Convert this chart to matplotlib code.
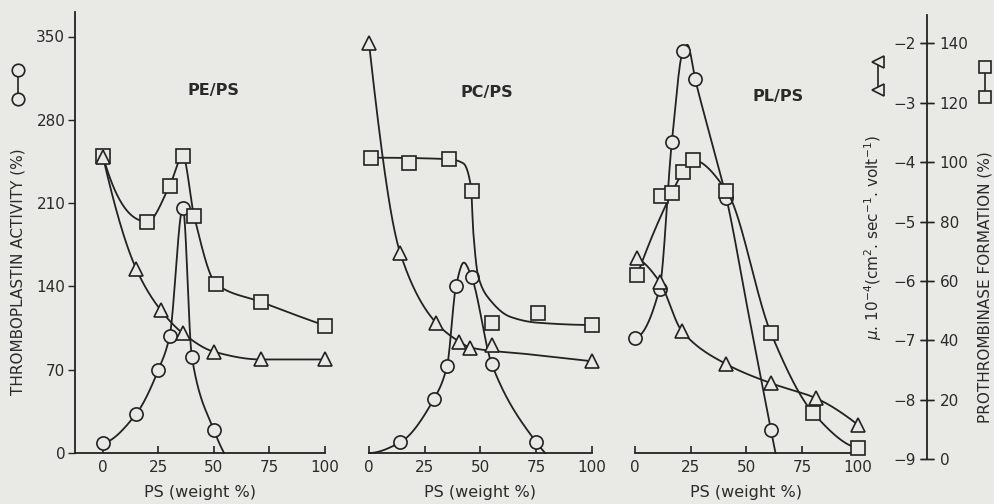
import numpy as np
import matplotlib
matplotlib.use("Agg")
import matplotlib.pyplot as plt
from matplotlib.lines import Line2D

# ------------------------------------------------------------------ data
ps_ticks = [0, 25, 50, 75, 100]
thrombo_ticks = [0, 70, 140, 210, 280, 350]
prothrombinase_ticks = [0, 20, 40, 60, 80, 100, 120, 140]
mobility_ticks = [-9, -8, -7, -6, -5, -4, -3, -2]
panel_titles = ["PE/PS", "PC/PS", "PL/PS"]
x_label = "PS (weight %)"

# PE/PS  -- thromboplastin activity (circles), prothrombinase (squares), mobility (triangles)
pe_thr_x = [0, 15, 25, 30, 36, 40, 50]
pe_thr_y = [8, 33, 70, 98, 206, 81, 19]
pe_thr_curve_x = [0, 15, 25, 30, 36, 40, 50, 54.5]
pe_thr_curve_y = [8, 33, 70, 98, 206, 81, 19, 0]
pe_pro_x = [0, 20, 30, 36, 41, 51, 71, 100]
pe_pro_y = [102, 80, 92, 102, 82, 59, 53, 45]
pe_mob_x = [0, 15, 26, 36, 50, 71, 100]
pe_mob_y = [-3.91, -5.80, -6.49, -6.88, -7.19, -7.32, -7.32]

# PC/PS
pc_thr_x = [14, 29, 35, 39, 46, 55, 75]
pc_thr_y = [9, 45, 73, 140, 148, 75, 9]
pc_thr_curve_x = [0, 14, 29, 35, 39, 42.5, 46, 55, 75, 79]
pc_thr_curve_y = [0, 9, 45, 73, 140, 160, 148, 75, 9, 0]
pc_pro_x = [1, 18, 36, 46, 55, 76, 100]
pc_pro_y = [101.5, 99.6, 101, 90.4, 45.8, 49.1, 45.2]
pc_pro_curve_x = [1, 36, 42.3, 45.7, 46.8, 49, 54.3, 63.2, 75.2, 100.6]
pc_pro_curve_y = [101.5, 101, 99.6, 91.8, 76.1, 61.5, 53.6, 48, 46, 45.2]
pc_mob_x = [0, 14, 30, 40.5, 45.5, 55, 100]
pc_mob_y = [-2.0, -5.53, -6.70, -7.02, -7.13, -7.08, -7.35]
pc_mob_curve_x = [0, 14, 30, 40.5, 45.5, 71, 100]
pc_mob_curve_y = [-2.0, -5.53, -6.70, -7.02, -7.12, -7.23, -7.35]

# PL/PS
pl_thr_x = [0, 11, 16.5, 21.5, 27, 41, 61]
pl_thr_y = [97, 138, 261, 338, 314, 214, 19]
pl_thr_curve_x = [0, 11, 16.5, 21.5, 23.5, 27, 34, 41, 51, 61, 63]
pl_thr_curve_y = [97, 138, 261, 338, 343, 314, 264, 214, 116, 19, 0]
pl_pro_x = [1, 11.5, 16.5, 21.5, 26, 41, 61, 80, 100]
pl_pro_y = [62, 88.6, 89.7, 96.6, 100.7, 90.4, 42.4, 15.5, 3.7]
pl_pro_curve_x = [1, 16.5, 21.5, 26, 41, 61, 80, 100]
pl_pro_curve_y = [62, 89.7, 96.6, 100.7, 90.4, 42.4, 15.5, 3.7]
pl_mob_x = [1, 11, 21, 41, 61, 81, 100]
pl_mob_y = [-5.62, -6.01, -6.84, -7.40, -7.72, -7.97, -8.42]

panels = [
    dict(title=panel_titles[0],
         thr=(pe_thr_x, pe_thr_y, pe_thr_curve_x, pe_thr_curve_y),
         pro=(pe_pro_x, pe_pro_y, pe_pro_x, pe_pro_y),
         mob=(pe_mob_x, pe_mob_y, pe_mob_x, pe_mob_y)),
    dict(title=panel_titles[1],
         thr=(pc_thr_x, pc_thr_y, pc_thr_curve_x, pc_thr_curve_y),
         pro=(pc_pro_x, pc_pro_y, pc_pro_curve_x, pc_pro_curve_y),
         mob=(pc_mob_x, pc_mob_y, pc_mob_curve_x, pc_mob_curve_y)),
    dict(title=panel_titles[2],
         thr=(pl_thr_x, pl_thr_y, pl_thr_curve_x, pl_thr_curve_y),
         pro=(pl_pro_x, pl_pro_y, pl_pro_curve_x, pl_pro_curve_y),
         mob=(pl_mob_x, pl_mob_y, pl_mob_x, pl_mob_y)),
]

# ------------------------------------------------------------------ style / layout
BG = "#e9e9e6"
INK = "#222222"
TXT = "#2a2a2a"
W, H = 995, 504
plt.rcParams["font.family"] = ["DejaVu Sans"]

TOP_PX, BOT_PX = 12, 453
THR_ANCHOR = (0, 453.0, 350, 36.5)
PRO_ANCHOR = (0, 459.3, 140, 43.3)
MOB_ANCHOR = (-9, 459.3, -2, 43.3)

panel_geom = [
    (103, 325, 75, (213, 90)),
    (369, 592, 369, (487, 93)),
    (635, 858, 635, (778, 97)),
]


def lims(anchor, top_px, bot_px):
    v0, p0, v1, p1 = anchor
    s = (v1 - v0) / (p0 - p1)
    return v0 + (p0 - bot_px) * s, v0 + (p0 - top_px) * s


def pchip(x, y, n=300):
    x = np.asarray(x, float)
    y = np.asarray(y, float)
    h = np.diff(x)
    d = np.diff(y) / h
    m = np.zeros_like(y)
    for k in range(1, len(x) - 1):
        if d[k - 1] * d[k] > 0:
            w1 = 2 * h[k] + h[k - 1]
            w2 = h[k] + 2 * h[k - 1]
            m[k] = (w1 + w2) / (w1 / d[k - 1] + w2 / d[k])
    if len(x) > 2:
        m0 = ((2 * h[0] + h[1]) * d[0] - h[0] * d[1]) / (h[0] + h[1])
        if np.sign(m0) != np.sign(d[0]):
            m0 = 0
        elif np.sign(d[0]) != np.sign(d[1]) and abs(m0) > abs(3 * d[0]):
            m0 = 3 * d[0]
        m[0] = m0
        mn = ((2 * h[-1] + h[-2]) * d[-1] - h[-1] * d[-2]) / (h[-1] + h[-2])
        if np.sign(mn) != np.sign(d[-1]):
            mn = 0
        elif np.sign(d[-1]) != np.sign(d[-2]) and abs(mn) > abs(3 * d[-1]):
            mn = 3 * d[-1]
        m[-1] = mn
    else:
        m[:] = d[0]
    xs, ys = [], []
    for k in range(len(x) - 1):
        t = np.linspace(0, 1, max(4, int(n * h[k] / (x[-1] - x[0]))))
        h00 = 2 * t**3 - 3 * t**2 + 1
        h10 = t**3 - 2 * t**2 + t
        h01 = -2 * t**3 + 3 * t**2
        h11 = t**3 - t**2
        xs.append(x[k] + t * h[k])
        ys.append(h00 * y[k] + h10 * h[k] * m[k] + h01 * y[k + 1] + h11 * h[k] * m[k + 1])
    return np.concatenate(xs), np.concatenate(ys)


fig = plt.figure(figsize=(W / 100, H / 100), dpi=100, facecolor=BG)

mk = dict(mec=INK, mfc=BG, mew=1.2, clip_on=False, zorder=5, ls="none")
ln = dict(color=INK, lw=1.3, clip_on=False, zorder=3)

for i, (p, (x0, x100, left, tpos)) in enumerate(zip(panels, panel_geom)):
    s = 100.0 / (x100 - x0)
    xlo = (left - x0) * s
    rect = [left / W, (H - BOT_PX) / H, (x100 - left) / W, (BOT_PX - TOP_PX) / H]
    ax = fig.add_axes(rect)
    axp = ax.twinx()
    axm = ax.twinx()
    ax.yaxis.tick_left()
    ax.set_facecolor("none")
    ax.set_xlim(xlo, 100)
    ax.set_ylim(*lims(THR_ANCHOR, TOP_PX, BOT_PX))
    for sp in ["top", "right"]:
        ax.spines[sp].set_visible(False)
    ax.spines["bottom"].set_color(INK)
    ax.spines["bottom"].set_linewidth(1.3)
    ax.set_xticks(ps_ticks)
    ax.tick_params(axis="x", direction="in", length=5, width=1.2, color=INK,
                   labelsize=11, labelcolor=TXT, pad=5)
    if i == 0:
        ax.spines["left"].set_color(INK)
        ax.spines["left"].set_linewidth(1.3)
        ax.set_yticks(thrombo_ticks)
        ax.tick_params(axis="y", direction="out", length=5, width=1.0, color=INK,
                       labelsize=11, labelcolor=TXT, pad=2)
    else:
        ax.spines["left"].set_visible(False)
        ax.set_yticks([])
    ax.set_xlabel(x_label, fontsize=11.5, color=TXT, labelpad=7)

    axp.set_ylim(*lims(PRO_ANCHOR, TOP_PX, BOT_PX))
    axm.set_ylim(*lims(MOB_ANCHOR, TOP_PX, BOT_PX))
    for a in (axp, axm):
        a.set_facecolor("none")
        for sp in a.spines.values():
            sp.set_visible(False)
        a.set_yticks([])

    mx, my, cx, cy = p["thr"]
    ax.plot(*pchip(cx, cy), **ln)
    ax.plot(mx, my, marker="o", ms=9.5, **mk)
    mx, my, cx, cy = p["pro"]
    axp.plot(*pchip(cx, cy), **ln)
    axp.plot(mx, my, marker="s", ms=9.5, **mk)
    mx, my, cx, cy = p["mob"]
    axm.plot(*pchip(cx, cy), **ln)
    axm.plot(mx, my, marker="^", ms=10.5, **mk)

    fig.text(tpos[0] / W, 1 - tpos[1] / H, p["title"], fontsize=11.5,
             fontweight="bold", color=TXT, ha="center", va="center")

# ---- right-hand double scale (mobility on the left side, prothrombinase on the right)
RT, RB = 15, 459.3
axr = fig.add_axes([927 / W, (H - RB) / H, 0.0001, (RB - RT) / H])
axrp = axr.twinx()
axr.set_facecolor("none")
axr.set_xticks([])
axr.set_ylim(*lims(MOB_ANCHOR, RT, RB))
for sp in ["top", "right", "bottom"]:
    axr.spines[sp].set_visible(False)
axr.spines["left"].set_color(INK)
axr.spines["left"].set_linewidth(1.3)
axr.yaxis.tick_left()
axr.set_yticks(mobility_ticks)
axr.tick_params(axis="y", direction="inout", length=10, width=1.0, color=INK,
                labelsize=11, labelcolor=TXT, pad=3)

axrp.set_ylim(*lims(PRO_ANCHOR, RT, RB))
for sp in axrp.spines.values():
    sp.set_visible(False)
axrp.yaxis.tick_right()
axrp.set_yticks(prothrombinase_ticks)
axrp.tick_params(axis="y", direction="inout", length=10, width=1.0, color=INK,
                 labelsize=11, labelcolor=TXT, pad=4)

# ---- axis titles with symbol keys
fig.text(18 / W, 1 - 272 / H, "THROMBOPLASTIN ACTIVITY (%)", rotation=90,
         fontsize=11, color=TXT, ha="center", va="center")
fig.text(873 / W, 1 - 238 / H,
         r"$\mu$. 10$^{-4}$(cm$^{2}$. sec$^{-1}$. volt$^{-1}$)", rotation=90,
         fontsize=11, color=TXT, ha="center", va="center")
fig.text(985 / W, 1 - 287 / H, "PROTHROMBINASE FORMATION (%)", rotation=90,
         fontsize=11, color=TXT, ha="center", va="center")

key = dict(color=INK, lw=1.2, mec=INK, mfc=BG, mew=1.2, transform=fig.transFigure)
fig.add_artist(Line2D([18 / W, 18 / W], [1 - 70 / H, 1 - 99 / H], marker="o", ms=9, **key))
fig.add_artist(Line2D([878 / W, 878 / W], [1 - 62 / H, 1 - 90 / H], marker="<", ms=9, **key))
fig.add_artist(Line2D([985 / W, 985 / W], [1 - 67 / H, 1 - 97 / H], marker="s", ms=8.5, **key))

fig.savefig("out.png", dpi=100, facecolor=BG)
